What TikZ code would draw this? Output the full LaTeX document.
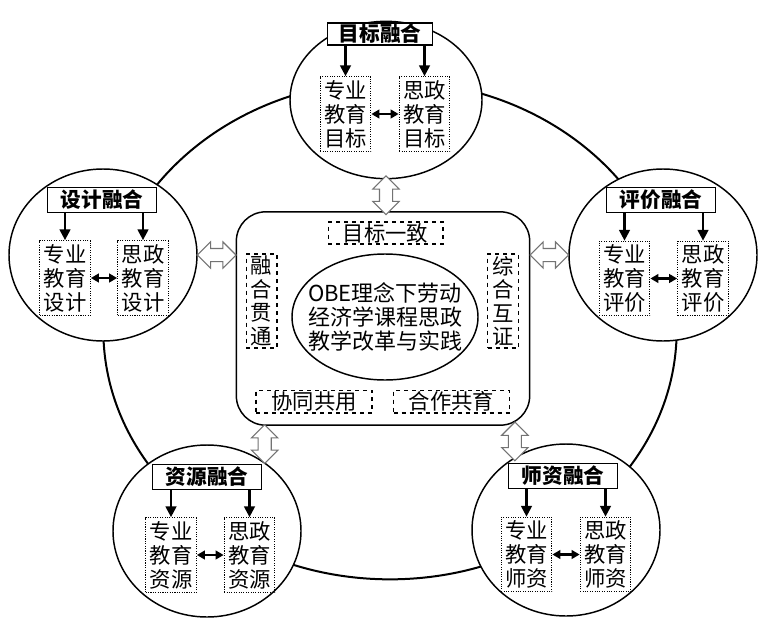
\documentclass[tikz,border=0pt]{standalone}
\usepackage{fontspec}
\setmainfont{Noto Sans CJK SC}
\usepackage{tikz}
\usetikzlibrary{calc}
\usetikzlibrary{arrows.meta}
\usetikzlibrary{shapes.geometric}
\usetikzlibrary{shapes.arrows}

\begin{document}
\begin{tikzpicture}[x = 0.75pt, y = -0.75pt,
    ring/.style = {draw, ellipse, line width = 1.1pt, fill = white, inner sep = 0pt, minimum width = 141pt, minimum height = 129pt},
    head/.style = {draw, line width = 1.1pt, fill = white, inner sep = 0pt, minimum width = 82pt, minimum height = 19pt, font = \fontsize{15.5}{18}\selectfont\bfseries},
    part/.style = {draw, densely dotted, line width = 0.8pt, inner sep = 0pt, minimum width = 38pt, minimum height = 56pt, align = center, font = \fontsize{16}{18}\selectfont},
    tag/.style = {draw, dashed, line width = 1pt, inner sep = 0pt, align = center, font = \fontsize{16}{17.6}\selectfont},
    feed/.style = {-{Triangle[width = 8pt, length = 8pt]}, line width = 1.6pt},
    link/.style = {{Triangle[width = 6.5pt, length = 6pt]}-{Triangle[width = 6.5pt, length = 6pt]}, line width = 1.6pt},
    hollow/.style = {double arrow, draw = black!55, fill = white, line width = 0.8pt, inner xsep = 0pt, inner ysep = 4.5pt, minimum height = 29pt, double arrow head extend = 5pt}]
    \useasboundingbox [fill = white] (0, 0) rectangle (762, 624);
    \draw [line width = 1.5pt] (390, 330) ellipse [x radius = 215pt, y radius = 187pt];
    \node [ring, minimum width = 144pt, minimum height = 118pt] (goal) at (386, 100) {};
    \node [ring] (design) at (103, 255) {};
    \node [ring] (eval) at (663, 255) {};
    \node [ring] (res) at (207, 531) {};
    \node [ring] (staff) at (566, 530) {};

    \node [draw, line width = 1.1pt, rounded corners = 22pt, minimum width = 220pt, minimum height = 160pt] (core) at (383, 318.5) {};
    \node [draw, ellipse, line width = 1.1pt, minimum width = 139.5pt, minimum height = 94.5pt] (obe) at (385, 317) {};
    \node [align = center, font = \fontsize{16.5}{18}\selectfont] (obetext) at (obe) {OBE理念下劳动\\经济学课程思政\\教学改革与实践};
    \node [tag, minimum width = 86pt, minimum height = 16.5pt] (aim) at (385.5, 233) {目标一致};
    \node [tag, minimum width = 23pt, minimum height = 70.5pt] (blend) at (261.5, 301) {融\\合\\贯\\通};
    \node [tag, minimum width = 23pt, minimum height = 70.5pt] (proof) at (503, 301) {综\\合\\互\\证};
    \node [tag, minimum width = 87pt, minimum height = 17pt] (share) at (314, 401.5) {协同共用};
    \node [tag, minimum width = 87pt, minimum height = 17pt] (coop) at (451.5, 401.5) {合作共育};

    \node [head, minimum width = 79pt, minimum height = 16.5pt] (goalhead) at (380, 34) {目标融合};
    \node [part] (goalmajor) at (345.5, 114) {专业\\教育\\目标};
    \node [part] (goalideo) at (424.5, 114) {思政\\教育\\目标};
    \node [head] (designhead) at (102, 200) {设计融合};
    \node [part] (designmajor) at (65, 278) {专业\\教育\\设计};
    \node [part] (designideo) at (143, 278) {思政\\教育\\设计};
    \node [head] (evalhead) at (661, 200) {评价融合};
    \node [part] (evalmajor) at (624.5, 278.5) {专业\\教育\\评价};
    \node [part] (evalideo) at (703, 278.5) {思政\\教育\\评价};
    \node [head] (reshead) at (207, 477) {资源融合};
    \node [part] (resmajor) at (171, 555) {专业\\教育\\资源};
    \node [part] (resideo) at (249.5, 555) {思政\\教育\\资源};
    \node [head] (staffhead) at (563, 476) {师资融合};
    \node [part] (staffmajor) at (526.5, 554.5) {专业\\教育\\师资};
    \node [part] (staffideo) at (605.5, 554.5) {思政\\教育\\师资};

    \draw [feed] (goalhead.south -| goalmajor.north) -- (goalmajor.north);
    \draw [feed] (goalhead.south -| goalideo.north) -- (goalideo.north);
    \draw [link] (goalmajor) -- (goalideo);
    \draw [feed] (designhead.south -| designmajor.north) -- (designmajor.north);
    \draw [feed] (designhead.south -| designideo.north) -- (designideo.north);
    \draw [link] (designmajor) -- (designideo);
    \draw [feed] (evalhead.south -| evalmajor.north) -- (evalmajor.north);
    \draw [feed] (evalhead.south -| evalideo.north) -- (evalideo.north);
    \draw [link] (evalmajor) -- (evalideo);
    \draw [feed] (reshead.south -| resmajor.north) -- (resmajor.north);
    \draw [feed] (reshead.south -| resideo.north) -- (resideo.north);
    \draw [link] (resmajor) -- (resideo);
    \draw [feed] (staffhead.south -| staffmajor.north) -- (staffmajor.north);
    \draw [feed] (staffhead.south -| staffideo.north) -- (staffideo.north);
    \draw [link] (staffmajor) -- (staffideo);

    \node [hollow, rotate = 90] (goalway) at ($(goal.south)!0.5!(goal.south |- core.north)$) {};
    \node [hollow] (designway) at ($(design.east)!0.5!(design.east -| core.west)$) {};
    \node [hollow] (evalway) at ($(eval.west)!0.5!(eval.west -| core.east)$) {};
    \node [hollow, rotate = 90] (resway) at ($(res.50)!0.5!(res.50 |- core.south)$) {};
    \node [hollow, rotate = 90] (staffway) at ($(staff.125)!0.5!(staff.125 |- core.south)$) {};
\end{tikzpicture}
\end{document}
